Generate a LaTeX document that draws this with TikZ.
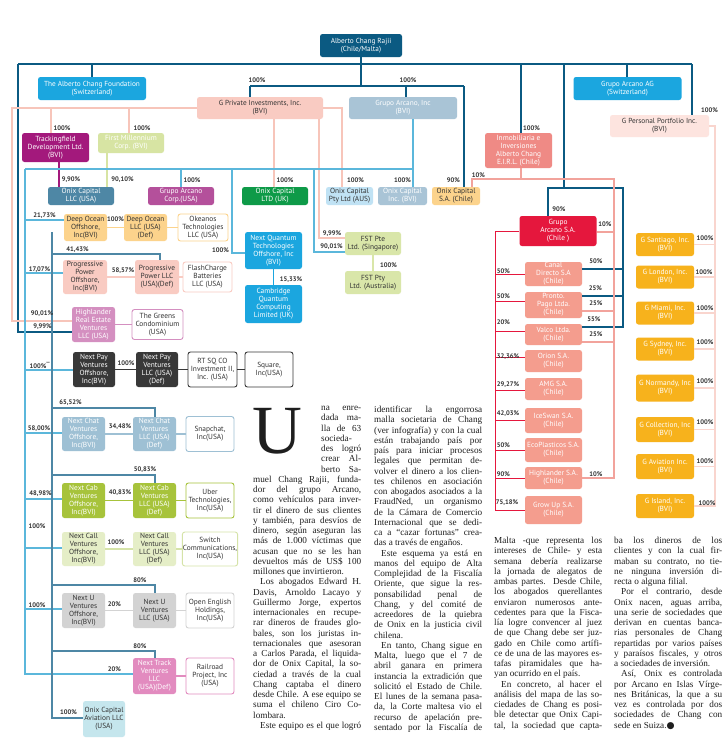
\documentclass[tikz,border=0pt]{standalone}
\usepackage{fontspec}
\setmainfont{Liberation Serif}
\newfontfamily\boxfont{PT Sans}
\newfontfamily\symfont{DejaVu Sans}
\usepackage{xcolor}

\definecolor{dkblue}{HTML}{0B5A82}
\definecolor{cyanb}{HTML}{1BA6DF}
\definecolor{gpink}{HTML}{F9CBC2}
\definecolor{gprivline}{HTML}{F7C5BA}
\definecolor{grayblue}{HTML}{A9C4D6}
\definecolor{gperc}{HTML}{FDE4DF}
\definecolor{gperline}{HTML}{F9D5CE}
\definecolor{inmobc}{HTML}{EF8A85}
\definecolor{inmobline}{HTML}{F2A39C}
\definecolor{trackc}{HTML}{A3197C}
\definecolor{millc}{HTML}{D7E4A3}
\definecolor{steel}{HTML}{4E87A5}
\definecolor{corpc}{HTML}{B4509B}
\definecolor{ukgreen}{HTML}{0E9A48}
\definecolor{ausc}{HTML}{C0E2F4}
\definecolor{lorange}{HTML}{FCD38C}
\definecolor{arcred}{HTML}{E5173D}
\definecolor{fstc}{HTML}{D9E6A9}
\definecolor{hrec}{HTML}{D48FC0}
\definecolor{payc}{HTML}{383838}
\definecolor{chatc}{HTML}{9EC0D4}
\definecolor{cabc}{HTML}{A7C33B}
\definecolor{callc}{HTML}{E5EEC7}
\definecolor{calld}{HTML}{D5E3A8}
\definecolor{ugray}{HTML}{D3D3D3}
\definecolor{trackp}{HTML}{E28BBF}
\definecolor{avic}{HTML}{C5E6ED}
\definecolor{subc}{HTML}{F49D8E}
\definecolor{goldc}{HTML}{F7B21C}
\definecolor{linkblue}{HTML}{5BB7DB}
\definecolor{txtdark}{HTML}{333333}
\definecolor{newsink}{HTML}{1E1E1E}

% one justified line of the article, optional indent in pt
\newcommand\jline[2][0]{\hspace*{#1pt}\makebox[\dimexpr\linewidth-#1pt\relax][s]{#2}\par}
\newcommand\lastln[2][0]{\hspace*{#1pt}#2\par}
\newcommand\newscol[1]{\parbox[t]{108pt}{\parindent=0pt\parskip=0pt\fontsize{9.2}{10.25}\selectfont #1}}

\tikzset{
  box/.style={rounded corners=2.5pt,inner sep=0.5pt,align=center,text=white,
    font=\boxfont\fontsize{7.4}{8}\selectfont},
  big/.style={font=\boxfont\fontsize{7.3}{8}\selectfont},
  sz/.style 2 args={minimum width=#1pt,minimum height=#2pt},
  dk/.style={text=txtdark},
  wb/.style={fill=white,draw=#1,line width=0.9pt,text=txtdark},
  pct/.style={font=\boxfont\bfseries\fontsize{6.6}{6.8}\selectfont,text=txtdark,inner sep=0pt},
  dkl/.style={draw=dkblue,line width=1.2pt},
  gpl/.style={draw=gprivline,line width=2pt},
  lbl/.style={draw=linkblue,line width=1.2pt},
  sbl/.style={draw=steel,line width=1.1pt},
  rdl/.style={draw=arcred,line width=1pt},
  ipl/.style={draw=inmobline,line width=1.3pt},
  ppl/.style={draw=gperline,line width=1.5pt},
  news/.style={anchor=north west,inner sep=0pt,text=newsink}
}

\begin{document}
\begin{tikzpicture}[x=1pt,y=-1pt,line join=miter]
\fill[white] (0,0) rectangle (728,750);
\useasboundingbox (0,0) rectangle (728,750);

% top of the tree
\node[box,big,sz={82}{23},fill=dkblue] (alberto) at (361,45.5) {Alberto Chang Rajii\\(Chile/Malta)};
\node[box,big,sz={108}{23},fill=cyanb] (foundation) at (92,88.5) {The Alberto Chang Foundation\\(Switzerland)};
\node[box,big,sz={126}{22},fill=gpink,dk] (gprivate) at (260,108) {G Private Investments, Inc.\\(BVI)};
\node[box,big,sz={108}{22},fill=grayblue] (arcanoinc) at (403,108) {Grupo Arcano, Inc\\(BVI)};
\node[box,big,sz={108}{23},fill=cyanb] (arcanoag) at (627.5,88.5) {Grupo Arcano AG\\(Switzerland)};
\node[box,big,sz={99}{22},fill=gperc,dk] (gpersonal) at (659.5,126) {G Personal Portfolio Inc.\\(BVI)};
\node[box,sz={67}{35},fill=inmobc] (inmob) at (518.5,150.5) {Inmobiliaria e\\Inversiones\\Alberto Chang\\E.I.R.L. (Chile)};
\node[box,sz={67}{29},fill=trackc] (tracking) at (55.5,147.5) {Trackingfield\\Development Ltd.\\(BVI)};
\node[box,sz={66}{20},fill=millc] (firstmill) at (131,143) {First Millennium\\Corp. (BVI)};

% onix row
\node[box,sz={66}{18},fill=steel] (onixllc) at (81,196) {Onix Capital\\LLC (USA)};
\node[box,sz={66}{18},fill=corpc] (arcanocorp) at (181,196) {Grupo Arcano\\Corp.(USA)};
\node[box,sz={66}{18},fill=ukgreen] (onixuk) at (275,196) {Onix Capital\\LTD (UK)};
\node[box,sz={47}{18},fill=ausc,dk] (onixaus) at (349.5,196) {Onix Capital\\Pty Ltd (AUS)};
\node[box,sz={49}{18},fill=grayblue] (onixbvi) at (402.5,196) {Onix Capital\\Inc. (BVI)};
\node[box,sz={48}{18},fill=lorange,dk] (onixcl) at (456,196) {Onix Capital\\S.A. (Chile)};

% left column of ventures
\node[box,sz={43}{27},fill=lorange,dk] (deepoff) at (85.5,227.5) {Deep Ocean\\Offshore,\\Inc(BVI)};
\node[box,sz={43}{27},fill=lorange,dk] (deepllc) at (145.5,227.5) {Deep Ocean\\LLC (USA)\\(Def)};
\node[box,sz={50}{27},wb=lorange] (okeanos) at (203,227.5) {Okeanos\\Technologies\\LLC (USA)};
\node[box,sz={44}{34},fill=gpink,dk] (progoff) at (85,277) {Progressive\\Power\\Offshore,\\Inc(BVI)};
\node[box,sz={44}{34},fill=gpink,dk] (progllc) at (157,277) {Progressive\\Power LLC\\(USA)(Def)};
\node[box,sz={49}{30},wb=gpink] (flash) at (207.5,277) {FlashCharge\\Batteries\\LLC (USA)};
\node[box,sz={43}{35},fill=hrec] (hre) at (93.5,324.5) {Highlander\\Real Estate\\Ventures\\LLC (USA)};
\node[box,sz={51}{30},wb=hrec] (greens) at (157.5,324.5) {The Greens\\Condominium\\(USA)};
\node[box,sz={42}{35},fill=payc] (payoff) at (94,369.5) {Next Pay\\Ventures\\Offshore,\\Inc(BVI)};
\node[box,sz={42}{35},fill=payc] (payllc) at (157,369.5) {Next Pay\\Ventures\\LLC (USA)\\(Def)};
\node[box,sz={49}{35},wb=payc] (rtsq) at (212.5,369.5) {RT SQ CO\\Investment II,\\Inc. (USA)};
\node[box,sz={48}{35},wb=payc] (square) at (269,369.5) {Square,\\Inc(USA)};
\node[box,sz={43}{34},fill=chatc] (chatoff) at (83.5,434) {Next Chat\\Ventures\\Offshore,\\Inc(BVI)};
\node[box,sz={43}{34},fill=chatc] (chatllc) at (154.5,434) {Next Chat\\Ventures\\LLC (USA)\\(Def)};
\node[box,sz={48}{35},wb=chatc] (snap) at (210,434) {Snapchat,\\Inc(USA)};
\node[box,sz={43}{35},fill=cabc] (caboff) at (83.5,500.5) {Next Cab\\Ventures\\Offshore,\\Inc(BVI)};
\node[box,sz={43}{35},fill=cabc] (cabllc) at (154.5,500.5) {Next Cab\\Ventures\\LLC (USA)\\(Def)};
\node[box,sz={48}{35},wb=cabc] (uber) at (210,500.5) {Uber\\Technologies,\\Inc(USA)};
\node[box,sz={43}{34},fill=callc,dk] (calloff) at (83.5,549) {Next Call\\Ventures\\Offshore,\\Inc(BVI)};
\node[box,sz={43}{34},fill=callc,dk] (callllc) at (154.5,549) {Next Call\\Ventures\\LLC (USA)\\(Def)};
\node[box,sz={48}{34},wb=calld] (switch) at (210,549) {Switch\\Communications,\\Inc(USA)};
\node[box,sz={43}{35},fill=ugray,dk] (uoff) at (83.5,610.5) {Next U\\Ventures\\Offshore,\\Inc(BVI)};
\node[box,sz={43}{35},fill=ugray,dk] (ullc) at (154.5,610.5) {Next U\\Ventures\\LLC (USA)};
\node[box,sz={48}{35},wb=ugray] (openeng) at (210,610.5) {Open English\\Holdings,\\Inc(USA)};
\node[box,sz={43}{36},fill=trackp] (track) at (154.5,676) {Next Track\\Ventures\\LLC\\(USA)(Def)};
\node[box,sz={48}{36},wb=trackp] (railroad) at (210,676) {Railroad\\Project, Inc\\(USA)};
\node[box,sz={42}{36},fill=avic,dk] (aviation) at (104,719) {Onix Capital\\Aviation LLC\\(USA)};

% middle
\node[box,sz={57}{37},fill=cyanb] (nextq) at (273.5,250.5) {Next Quantum\\Technologies\\Offshore, Inc\\(BVI)};
\node[box,sz={57}{38},fill=cyanb] (cambridge) at (273.5,304) {Cambridge\\Quantum\\Computing\\Limited (UK)};
\node[box,sz={56}{23},fill=fstc,dk] (fstpte) at (373,243.5) {FST Pte\\Ltd. (Singapore)};
\node[box,sz={56}{23},fill=fstc,dk] (fstpty) at (373,282.5) {FST Pty\\Ltd. (Australia)};

% right side
\node[box,sz={77}{30},fill=arcred] (arcanosa) at (558,231) {Grupo\\Arcano S.A.\\(Chile )};
\node[box,sz={57}{24},fill=subc] (canal) at (553.5,274) {Canal\\Directo S.A\\(Chile)};
\node[box,sz={57}{26},fill=subc] (pronto) at (553.5,305) {Pronto.\\Pago Ltda.\\(Chile)};
\node[box,sz={57}{21},fill=subc] (valco) at (553.5,334.5) {Valco Ltda.\\(Chile)};
\node[box,sz={57}{22},fill=subc] (orion) at (553.5,361) {Orion S.A.\\(Chile)};
\node[box,sz={57}{22},fill=subc] (amg) at (553.5,389) {AMG S.A.\\(Chile)};
\node[box,sz={57}{25},fill=subc] (iceswan) at (553.5,420.5) {IceSwan S.A.\\(Chile)};
\node[box,sz={57}{24},fill=subc] (eco) at (553.5,450) {EcoPlasticos S.A.\\(Chile)};
\node[box,sz={57}{22},fill=subc] (highsa) at (553.5,478) {Highlander S.A.\\(Chile)};
\node[box,sz={57}{28},fill=subc] (growup) at (553.5,510) {Grow Up S.A.\\(Chile)};

\node[box,sz={58}{23},fill=goldc] (gsantiago) at (665,244.5) {G Santiago, Inc.\\(BVI)};
\node[box,sz={58}{23},fill=goldc] (glondon) at (665,277) {G London, Inc.\\(BVI)};
\node[box,sz={58}{23},fill=goldc] (gmiami) at (665,313) {G Miami, Inc.\\(BVI)};
\node[box,sz={58}{23},fill=goldc] (gsydney) at (665,349) {G Sydney, Inc.\\(BVI)};
\node[box,sz={58}{27},fill=goldc] (gnormandy) at (665,388) {G Normandy, Inc\\(BVI)};
\node[box,sz={58}{25},fill=goldc] (gcollection) at (665,429.5) {G Collection, Inc\\(BVI)};
\node[box,sz={58}{25},fill=goldc] (gaviation) at (665,466.5) {G Aviation Inc.\\(BVI)};
\node[box,sz={58}{24},fill=goldc] (gisland) at (665,506) {G Island, Inc.\\(BVI)};

% dark blue ownership
\draw[dkl] (18,64) -- (692,64);
\draw[dkl] (alberto) -- (361,86);
\draw[dkl] (250,86) -- (464,86);
\draw[dkl] (250,86) -- (gprivate.north -| 250,0);
\draw[dkl] (406,86) -- (arcanoinc.north -| 406,0);
\draw[dkl] (464,86) -- (onixcl.north -| 464,0);
\draw[dkl] (92,64) -- (foundation);
\draw[dkl] (18,64) -- (18,332) -- (hre.west |- 0,332);
\draw[dkl] (521,64) -- (inmob.north -| 521,0);
\draw[dkl] (564,64) -- (564,188);
\draw[dkl] (arcanosa.north -| 548,0) -- (548,188) -- (623,188) -- (623,327) -- (valco.east |- 0,327);
\draw[dkl] (623,269) -- (canal.east |- 0,269);
\draw[dkl] (623,296) -- (pronto.east |- 0,296);
\draw[dkl] (627,64) -- (arcanoag.north -| 627,0);
\draw[dkl] (692,64) -- (gpersonal.north -| 692,0);

% G Private lines
\draw[gpl] (gprivate.west) -- (12,108) -- (12,321) -- (hre.west |- 0,321);
\draw[gpl] (51,108) -- (tracking.north -| 51,0);
\draw[gpl] (129,108) -- (firstmill.north -| 129,0);
\draw[gpl] (gprivate.east) -- (342,108) -- (onixaus.north -| 342,0);
\draw[gpl] (gprivate.south -| 274,0) -- (onixuk.north -| 274,0);
\draw[gpl] (gprivate.south -| 319,0) -- (319,238) -- (fstpte.west |- 0,238);
\draw[draw=trackc,line width=1.3pt] (tracking.south -| 59,0) -- (onixllc.north -| 59,0);
\draw[draw=millc,line width=1.5pt] (firstmill.south -| 107,0) -- (onixllc.north -| 107,0);

% light blue lines
\draw[lbl] (arcanoinc.south -| 413,0) -- (onixbvi.north -| 413,0);
\draw[lbl] (25,169) -- (413,169);
\draw[lbl] (181,169) -- (arcanocorp.north -| 181,0);
\draw[lbl] (232,169) -- (232,253) -- (nextq.west |- 0,253);
\draw[lbl] (314,169) -- (314,252) -- (fstpte.west |- 0,252);
\draw[lbl] (25,169) -- (25,674) -- (track.west |- 0,674);
\draw[lbl] (25,220) -- (deepoff.west |- 0,220);
\draw[lbl] (25,273) -- (progoff.west |- 0,273);
\draw[lbl] (25,370) -- (payoff.west |- 0,370);
\draw[lbl] (25,433) -- (chatoff.west |- 0,433);
\draw[lbl] (25,499) -- (caboff.west |- 0,499);
\draw[lbl] (25,548) -- (calloff.west |- 0,548);
\draw[lbl] (25,609) -- (uoff.west |- 0,609);

% second spine
\draw[sbl] (52,232) -- (52,718) -- (aviation.west |- 0,718);
\draw[sbl] (52,254) -- (160,254) -- (progllc.north -| 160,0);
\draw[sbl] (52,408) -- (155,408) -- (chatllc.north -| 155,0);
\draw[sbl] (52,475) -- (155,475) -- (cabllc.north -| 155,0);
\draw[sbl] (52,585) -- (155,585) -- (ullc.north -| 155,0);
\draw[sbl] (52,651) -- (155,651) -- (track.north -| 155,0);

% sibling links
\draw[draw=lorange,line width=1.2pt] (deepoff) -- (deepllc);
\draw[draw=lorange,line width=1.2pt] (deepllc) -- (okeanos);
\draw[draw=gpink,line width=1.2pt] (progoff) -- (progllc);
\draw[draw=gpink,line width=1.2pt] (progllc) -- (flash);
\draw[draw=hrec,line width=1.2pt] (hre) -- (greens);
\draw[draw=payc,line width=1.2pt] (payoff) -- (payllc);
\draw[draw=payc,line width=1.2pt] (payllc) -- (rtsq);
\draw[draw=payc,line width=1.2pt] (rtsq) -- (square);
\draw[draw=chatc,line width=1.2pt] (chatoff) -- (chatllc);
\draw[draw=chatc,line width=1.2pt] (chatllc) -- (snap);
\draw[draw=cabc,line width=1.2pt] (caboff) -- (cabllc);
\draw[draw=cabc,line width=1.2pt] (cabllc) -- (uber);
\draw[draw=calld,line width=1.2pt] (calloff) -- (callllc);
\draw[draw=calld,line width=1.2pt] (callllc) -- (switch);
\draw[draw=ugray,line width=1.2pt] (uoff) -- (ullc);
\draw[draw=ugray,line width=1.2pt] (ullc) -- (openeng);
\draw[draw=trackp,line width=1.2pt] (track) -- (railroad);
\draw[draw=cyanb,line width=1.2pt] (nextq) -- (cambridge);
\draw[draw=fstc,line width=1.5pt] (fstpte) -- (fstpty);

% Grupo Arcano S.A. (Chile)
\draw[rdl] (arcanosa.west) -- (495,231) -- (495,510) -- (growup.west |- 0,510);
\draw[rdl] (495,274) -- (canal.west |- 0,274);
\draw[rdl] (495,301) -- (pronto.west |- 0,301);
\draw[rdl] (495,331) -- (valco.west |- 0,331);
\draw[rdl] (495,357) -- (orion.west |- 0,357);
\draw[rdl] (495,390) -- (amg.west |- 0,390);
\draw[rdl] (495,420) -- (iceswan.west |- 0,420);
\draw[rdl] (495,450) -- (eco.west |- 0,450);
\draw[rdl] (495,478) -- (highsa.west |- 0,478);

% Inmobiliaria
\draw[ipl] (inmob.south -| 521,0) -- (521,179);
\draw[ipl] (onixcl.north -| 472,0) -- (472,179) -- (614,179) -- (614,478) -- (highsa.east |- 0,478);
\draw[ipl] (614,232) -- (arcanosa.east |- 0,232);
\draw[ipl] (614,311) -- (pronto.east |- 0,311);
\draw[ipl] (614,342) -- (valco.east |- 0,342);

% G Personal Portfolio
\draw[ppl] (gpersonal.east) -- (715,126) -- (715,506) -- (gisland.east);
\foreach \g in {gsantiago,glondon,gmiami,gsydney,gnormandy,gcollection,gaviation}
  \draw[ppl] (\g.east) -- (\g.east -| 715,0);

% percentages
\node[pct] (p1) at (257,80) {100\%};
\node[pct] (p2) at (408,80) {100\%};
\node[pct] (p3) at (62,128) {100\%};
\node[pct] (p4) at (142,128) {100\%};
\node[pct] (p5) at (71,180) {9,90\%};
\node[pct] (p6) at (122.5,180) {90,10\%};
\node[pct] (p7) at (192,180) {100\%};
\node[pct] (p8) at (285,180) {100\%};
\node[pct] (p9) at (355.5,180) {100\%};
\node[pct] (p10) at (402.5,180) {100\%};
\node[pct] (p11) at (453.5,180) {90\%};
\node[pct] (p12) at (478.5,175) {10\%};
\node[pct] (p13) at (531.5,128) {100\%};
\node[pct] (p14) at (709.5,110) {100\%};
\node[pct] (p15) at (44.5,216) {21,73\%};
\node[pct] (p16) at (115.5,219) {100\%};
\node[pct] (p17) at (77.5,250) {41,43\%};
\node[pct] (p18) at (220.5,250) {100\%};
\node[pct] (p19) at (39.5,270) {17,07\%};
\node[pct] (p20) at (123,271) {58,57\%};
\node[pct] (p21) at (42,314) {90,01\%};
\node[pct] (p22) at (42.5,327) {9,99\%};
\node[pct] (p23) at (40,365) {100\%\textsuperscript{**}};
\node[pct] (p24) at (126,363) {100\%};
\node[pct] (p25) at (332,234) {9,99\%};
\node[pct] (p26) at (331.5,247) {90,01\%};
\node[pct] (p27) at (388.5,265) {100\%};
\node[pct] (p28) at (291,280) {15,33\%};
\node[pct] (p29) at (70.5,403) {65,52\%};
\node[pct] (p30) at (39,429) {58,00\%};
\node[pct] (p31) at (120,427) {34,48\%};
\node[pct] (p32) at (145,470) {50,83\%};
\node[pct] (p33) at (40.5,494) {48,98\%};
\node[pct] (p34) at (120,493) {40,83\%};
\node[pct] (p35) at (37,526) {100\%};
\node[pct] (p36) at (116,542) {100\%};
\node[pct] (p37) at (140,580) {80\%};
\node[pct] (p38) at (37,605) {100\%};
\node[pct] (p39) at (114.5,604) {20\%};
\node[pct] (p40) at (140,646) {80\%};
\node[pct] (p41) at (114.5,669) {20\%};
\node[pct] (p42) at (68.5,712) {100\%};
\node[pct] (p43) at (559,209) {90\%};
\node[pct] (p44) at (605,224) {10\%};
\node[pct] (p45) at (596,261) {50\%};
\node[pct] (p46) at (503.5,271) {50\%};
\node[pct] (p47) at (595.5,288) {25\%};
\node[pct] (p48) at (503.5,296) {50\%};
\node[pct] (p49) at (596,303) {25\%};
\node[pct] (p50) at (594,319) {55\%};
\node[pct] (p51) at (503.5,322) {20\%};
\node[pct] (p52) at (596,334) {25\%};
\node[pct] (p53) at (508,357) {32,36\%};
\node[pct] (p54) at (508,385) {29,27\%};
\node[pct] (p55) at (508,414) {42,03\%};
\node[pct] (p56) at (503.5,445) {50\%};
\node[pct] (p57) at (503.5,474) {90\%};
\node[pct] (p58) at (596,474) {10\%};
\node[pct] (p59) at (507,503) {75,18\%};
\node[pct] (p60) at (705,238) {100\%};
\node[pct] (p61) at (704,272) {100\%};
\node[pct] (p62) at (705,308) {100\%};
\node[pct] (p63) at (705,342) {100\%};
\node[pct] (p64) at (705,381) {100\%};
\node[pct] (p65) at (705,422) {100\%};
\node[pct] (p66) at (705,461) {100\%};
\node[pct] (p67) at (707,503) {100\%};

% article
\node[news,font=\fontsize{69}{69}\selectfont] (dropcap) at (252,408) {U};
\node[news] (col1) at (253,406) {\newscol{%
\jline[68]{na enre-}
\jline[68]{dada ma-}
\jline[68]{lla de 63}
\jline[68]{socieda-}
\jline[68]{des logró}
\jline[68]{crear Al-}
\jline[68]{berto Sa-}
\jline{muel Chang Rajii, funda-}
\jline{dor del grupo Arcano,}
\jline{como vehículos para inver-}
\jline{tir el dinero de sus clientes}
\jline{y también, para desvíos de}
\jline{dinero, según aseguran las}
\jline{más de 1.000 víctimas que}
\jline{acusan que no se les han}
\jline{devueltos más de US\$ 100}
\lastln{millones que invirtieron.}
\jline[7]{Los abogados Edward H.}
\jline{Davis, Arnoldo Lacayo y}
\jline{Guillermo Jorge, expertos}
\jline{internacionales en recupe-}
\jline{rar dineros de fraudes glo-}
\jline{bales, son los juristas in-}
\jline{ternacionales que asesoran}
\jline{a Carlos Parada, el liquida-}
\jline{dor de Onix Capital, la so-}
\jline{ciedad a través de la cual}
\jline{Chang captaba el dinero}
\jline{desde Chile. A ese equipo se}
\jline{suma el chileno Ciro Co-}
\lastln{lombara.}
\jline[7]{Este equipo es el que logró}}};
\node[news] (col2) at (374,406) {\newscol{%
\jline{identificar la engorrosa}
\jline{malla societaria de Chang}
\jline{(ver infografía) y con la cual}
\jline{están trabajando país por}
\jline{país para iniciar procesos}
\jline{legales que permitan de-}
\jline{volver el dinero a los clien-}
\jline{tes chilenos en asociación}
\jline{con abogados asociados a la}
\jline{FraudNed, un organismo}
\jline{de la Cámara de Comercio}
\jline{Internacional que se dedi-}
\jline{ca a “cazar fortunas” crea-}
\lastln{das a través de engaños.}
\jline[7]{Este esquema ya está en}
\jline{manos del equipo de Alta}
\jline{Complejidad de la Fiscalía}
\jline{Oriente, que sigue la res-}
\jline{ponsabilidad penal de}
\jline{Chang, y del comité de}
\jline{acreedores de la quiebra}
\jline{de Onix en la justicia civil}
\lastln{chilena.}
\jline[7]{En tanto, Chang sigue en}
\jline{Malta, luego que el 7 de}
\jline{abril ganara en primera}
\jline{instancia la extradición que}
\jline{solicitó el Estado de Chile.}
\jline{El lunes de la semana pasa-}
\jline{da, la Corte maltesa vio el}
\jline{recurso de apelación pre-}
\jline{sentado por la Fiscalía de}}};
\node[news] (col3) at (494,537) {\newscol{%
\jline{Malta -que representa los}
\jline{intereses de Chile- y esta}
\jline{semana debería realizarse}
\jline{la jornada de alegatos de}
\jline{ambas partes. Desde Chile,}
\jline{los abogados querellantes}
\jline{enviaron numerosos ante-}
\jline{cedentes para que la Fisca-}
\jline{lía logre convencer al juez}
\jline{de que Chang debe ser juz-}
\jline{gado en Chile como artífi-}
\jline{ce de una de las mayores es-}
\jline{tafas piramidales que ha-}
\lastln{yan ocurrido en el país.}
\jline[7]{En concreto, al hacer el}
\jline{análisis del mapa de las so-}
\jline{ciedades de Chang es posi-}
\jline{ble detectar que Onix Capi-}
\jline{tal, la sociedad que capta-}}};
\node[news] (col4) at (614,537) {\newscol{%
\jline{ba los dineros de los}
\jline{clientes y con la cual fir-}
\jline{maban su contrato, no tie-}
\jline{ne ninguna inversión di-}
\lastln{recta o alguna filial.}
\jline[7]{Por el contrario, desde}
\jline{Onix nacen, aguas arriba,}
\jline{una serie de sociedades que}
\jline{derivan en cuentas banca-}
\jline{rias personales de Chang}
\jline{repartidas por varios países}
\jline{y paraísos fiscales, y otros}
\lastln{a sociedades de inversión.}
\jline[7]{Así, Onix es controlada}
\jline{por Arcano en Islas Vírge-}
\jline{nes Británicas, la que a su}
\jline{vez es controlada por dos}
\jline{sociedades de Chang con}
\lastln{sede en Suiza.{\symfont ●}}}};
\end{tikzpicture}
\end{document}
